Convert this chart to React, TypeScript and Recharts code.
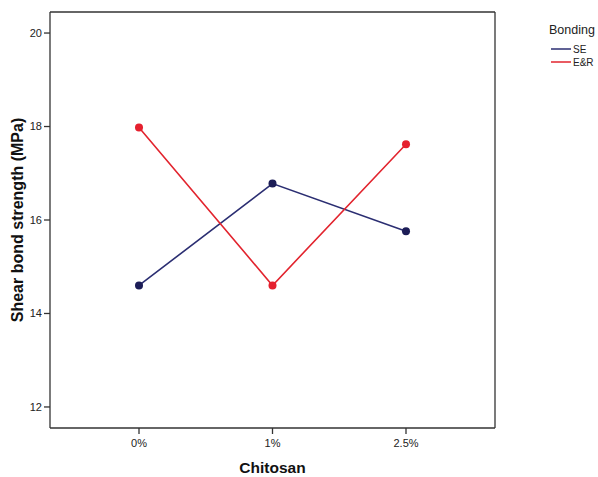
import React from 'react';
import { LineChart, Line, XAxis, YAxis, Legend } from 'recharts';

const categories = ['0%', '1%', '2.5%'];
const seValues = [14.6, 16.78, 15.76];
const erValues = [17.98, 14.6, 17.62];
const yTicks = [12, 14, 16, 18, 20];
const seriesOrder = ['SE', 'E&R'];

const data = categories.map((c, i) => ({ c, se: seValues[i], er: erValues[i] }));

const FONT = 'Arial, "Liberation Sans", sans-serif';
const AXIS = '#333333';

const LegendContent = (props: any) => {
  const payload = (props.payload || [])
    .filter((p: any) => seriesOrder.includes(p.value))
    .sort((a: any, b: any) => seriesOrder.indexOf(a.value) - seriesOrder.indexOf(b.value));
  return (
    <svg width={98} height={80} style={{ display: 'block' }}>
      <text x={49} y={33.5} fontFamily={FONT} fontSize={12.5} fill="#222">Bonding</text>
      {payload.map((p: any, i: number) => (
        <g key={i}>
          <line x1={51} x2={71} y1={49 + i * 13} y2={49 + i * 13} stroke={p.color} strokeWidth={1.5} />
          <text x={73} y={53 + i * 13} fontFamily={FONT} fontSize={10} fill="#222">{p.value}</text>
        </g>
      ))}
    </svg>
  );
};

const YLabel = (props: any) => {
  const vb = props.viewBox || { x: 0, y: 12, width: 50, height: 416 };
  const cx = 23;
  const cy = vb.y + vb.height / 2;
  return (
    <text x={cx} y={cy} transform={`rotate(-90, ${cx}, ${cy})`} textAnchor="middle"
      fontFamily={FONT} fontSize={16} fontWeight="bold" fill="#111">
      Shear bond strength (MPa)
    </text>
  );
};

export default function App() {
  return (
    <div style={{ position: 'absolute', left: 0, top: 0, background: '#fff' }}>
      <LineChart width={598} height={477} data={data} margin={{ top: 11, right: 102, left: 0, bottom: 0 }}>
        <XAxis dataKey="c" scale="point" padding={{ left: 89, right: 89 }} height={49}
          tickSize={6} tickMargin={5} axisLine={{ stroke: AXIS, strokeWidth: 1.3 }}
          tickLine={{ stroke: AXIS, strokeWidth: 1.3 }}
          tick={{ fontFamily: FONT, fontSize: 11, fill: '#222' }}
          label={{ value: 'Chitosan', position: 'insideBottom', offset: 4, fontFamily: FONT, fontSize: 15.5, fontWeight: 'bold', fill: '#111' }} />
        <XAxis xAxisId="top" dataKey="c" scale="point" padding={{ left: 89, right: 89 }} orientation="top" height={1} tick={false} tickLine={false}
          axisLine={{ stroke: AXIS, strokeWidth: 1.3 }} />
        <YAxis domain={[11.55, 20.45]} ticks={yTicks} width={50} tickSize={6} tickMargin={2}
          allowDataOverflow axisLine={{ stroke: AXIS, strokeWidth: 1.3 }}
          tickLine={{ stroke: AXIS, strokeWidth: 1.3 }}
          tick={{ fontFamily: FONT, fontSize: 11, fill: '#222' }}
          label={<YLabel />} />
        <YAxis yAxisId="right" orientation="right" domain={[11.55, 20.45]} allowDataOverflow width={1} tick={false}
          tickLine={false} axisLine={{ stroke: AXIS, strokeWidth: 1.3 }} />
        <Legend layout="vertical" align="center" verticalAlign="middle"
          wrapperStyle={{ left: 500, top: 0, width: 98, height: 80 }} content={<LegendContent />} />
        <Line xAxisId="top" yAxisId="right" dataKey="se" name="frame" stroke="none" dot={false}
          activeDot={false} legendType="none" isAnimationActive={false} />
        <Line dataKey="se" name="SE" stroke="#2b2e72" strokeWidth={1.6} isAnimationActive={false}
          dot={{ r: 4, fill: '#1c1d57', stroke: '#1c1d57', strokeWidth: 0 }} activeDot={false} />
        <Line dataKey="er" name="E&R" stroke="#e2242e" strokeWidth={1.6} isAnimationActive={false}
          dot={{ r: 4, fill: '#e5202e', stroke: '#e5202e', strokeWidth: 0 }} activeDot={false} />
      </LineChart>
    </div>
  );
}
